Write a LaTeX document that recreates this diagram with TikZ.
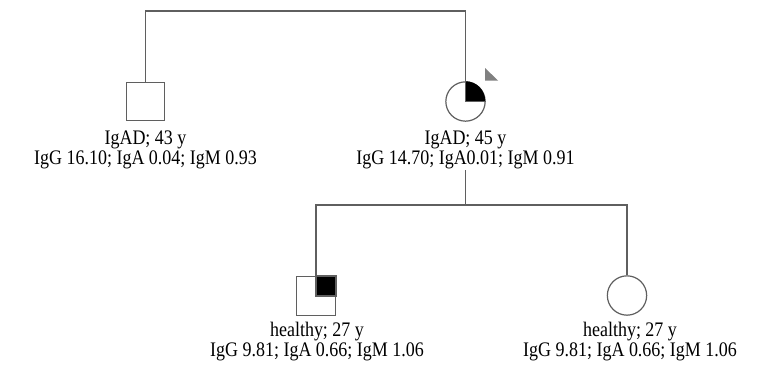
\documentclass[tikz,border=0pt]{standalone}
\usepackage{fontspec}
\setmainfont{Liberation Serif}[FakeStretch=0.87]
\definecolor{lin}{RGB}{95,95,95}
\definecolor{tri}{RGB}{128,128,128}
\begin{document}
\begin{tikzpicture}[x=0.75pt,y=-0.75pt,
  ln/.style={draw=lin,line width=0.9pt},
  male/.style={ln,rectangle,minimum size=29pt,inner sep=0pt,fill=white},
  female/.style={ln,circle,minimum size=29.5pt,inner sep=0pt,fill=white},
  lab/.style={align=center,inner sep=0pt,font=\fontsize{15.5pt}{15pt}\selectfont,text=black}]
\useasboundingbox (0,0) rectangle (763,369);
% coordinates
\coordinate (ft) at (145.5,11);
\coordinate (mt) at (465.5,11);
\coordinate (sib) at (465.5,205);
\coordinate (hl) at (316,205);
\coordinate (hr) at (627,205);
% individuals
\node[male] (f) at (145.5,101.5) {};
\node[female] (m) at (465.5,101.5) {};
\node[male] (s) at (316,296) {};
\node[female] (d) at (627,295.5) {};
% affected quarters
\fill[black] (m.center) -- (m.north) arc[start angle=90,end angle=0,radius=14.75pt] -- cycle;
\draw[lin,line width=0.9pt] (m.center) -- (m.north) (m.center) -- (m.east);
\fill[black] (s.center) rectangle (s.north east);
\draw[lin,line width=0.9pt] (s.center) rectangle (s.north east);
% proband marker
\fill[tri] (485,68) -- (485,80.5) -- (498,80.5) -- cycle;
% labels
\node[lab] (fl) at (145.5,149.5) {IgAD; 43 y\\IgG 16.10; IgA 0.04; IgM 0.93};
\node[lab] (ml) at (465.5,149.5) {IgAD; 45 y\\IgG 14.70; IgA0.01; IgM 0.91};
\node[lab] (sl) at (317,342) {healthy; 27 y\\IgG 9.81; IgA 0.66; IgM 1.06};
\node[lab] (dl) at (630,342) {healthy; 27 y\\IgG 9.81; IgA 0.66; IgM 1.06};
% connectors
\coordinate (sibtop) at (465.5,170);
\draw[lin,line width=0.9pt] (f.north) -- (ft) -- (mt) -- (m.north);
\draw[lin,line width=0.9pt] (sibtop) -- (sib);
\draw[lin,line width=0.9pt] (s.north) -- (hl) -- (hr) -- (d.north);
\end{tikzpicture}
\end{document}
